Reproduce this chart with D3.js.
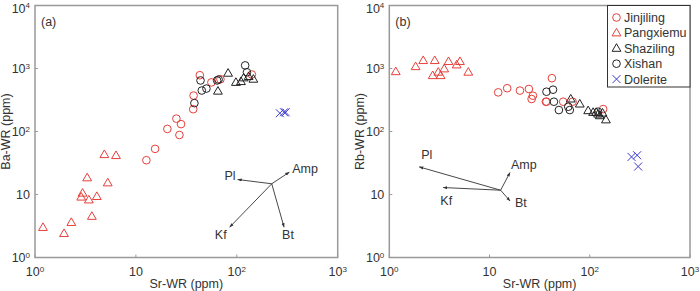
<!DOCTYPE html>
<html>
<head>
<meta charset="utf-8">
<script src="https://cdn.jsdelivr.net/npm/d3@7"></script>
<style>
  body { margin: 0; background: #fff; }
  text { font-family: "Liberation Sans", Arial, sans-serif; fill: #333; }
</style>
</head>
<body>
<div id="chart"></div>
<script>
// data: [Sr, Ba] for panel (a), [Sr, Rb] for panel (b)
const groups = ["Jinjiling", "Pangxiemu", "Shaziling", "Xishan", "Dolerite"];

const baJinjiling = [[12.7,35],[15.5,53],[20.5,110],[25.2,160],[28,131],[27,88],[37,226],[37.3,372],[43,783],[56,602],[68.8,676],[141,803]];
const baPangxiemu = [[1.2,3.0],[1.94,2.4],[2.29,3.6],[2.87,9.1],[2.96,10.5],[3.29,18.4],[3.42,8.2],[3.66,4.5],[4.1,9.3],[4.87,43],[5.26,15.3],[6.35,41.5]];
const baShaziling = [[65,437],[82,842],[98,602],[110,620],[117,710],[131,745],[146,676]];
const baXishan = [[38,282],[43.7,646],[45,447],[50,480],[63.8,646],[66,668],[121,1120],[126,870]];
const baDolerite = [[267,195],[294,202],[305,202]];

const rbJinjiling = [[12.2,418],[15,486],[20.1,446],[24.7,473],[26.3,328],[27.1,370],[36.5,297],[37,297],[41.9,702],[54.3,297],[67.4,297],[136,227]];
const rbPangxiemu = [[1.16,891],[1.83,1070],[2.18,1337],[2.71,771],[2.84,1337],[3.08,874],[3.25,771],[3.53,986],[3.9,1290],[4.7,1140],[5.07,1290],[6.14,874]];
const rbShaziling = [[64.6,328],[79.5,273],[96.4,214],[108,201],[116,201],[121,189],[126,178],[134,196],[145,153]];
const rbXishan = [[37,428],[43,461],[43.9,297],[49.2,219],[61,247],[63.2,219],[121,206]];
const rbDolerite = [[261,39.5],[297,42],[304,27.8]];

// mineral vectors: origin and end points in data units
const baVectorOrigin = [222, 14.8];
const baVectors = [["Pl",102,17.3],["Amp",331,22.6],["Kf",85,3.03],["Bt",294,3.03]];
const rbVectorOrigin = [12.9, 11.7];
const rbVectors = [["Pl",1.99,27.4],["Amp",16,22.3],["Kf",3.45,12.9],["Bt",16,7.9]];

const xTicks = [1, 10, 100, 1000];
const yTicks = [1, 10, 100, 1000, 10000];

const style = {
  Jinjiling: { shape: "circle", color: "#e5403b" },
  Pangxiemu: { shape: "triangle", color: "#e5403b" },
  Shaziling: { shape: "triangle", color: "#222" },
  Xishan:    { shape: "circle", color: "#222" },
  Dolerite:  { shape: "cross", color: "#3b3bd0" }
};

const width = 700, height = 291;
const svg = d3.select("#chart").append("svg")
    .attr("width", width)
    .attr("height", height);

svg.append("defs").append("marker")
    .attr("id", "head")
    .attr("viewBox", "0 0 10 10")
    .attr("refX", 9).attr("refY", 5)
    .attr("markerWidth", 5).attr("markerHeight", 5)
    .attr("orient", "auto")
  .append("path")
    .attr("d", "M0,1.5L10,5L0,8.5Z")
    .attr("fill", "#333");

function symbolPath(shape) {
  if (shape === "circle") return d3.symbol(d3.symbolCircle, 46)();
  if (shape === "triangle") return "M0,-4.6L4.4,3L-4.4,3Z";
  return "M-4,-4L4,4M-4,4L4,-4";
}

function supLabel(sel, v) {
  const e = Math.round(Math.log10(v));
  sel.text("10");
  if (e === 1) return;
  sel.append("tspan").attr("dy", -4.5).attr("font-size", 8).text(e);
}

function drawPanel(opt) {
  const x = d3.scaleLog().domain([1, 1000]).range(opt.xRange);
  const y = d3.scaleLog().domain([1, 10000]).range([257.5, 5.5]);
  const g = svg.append("g");

  // ticks (inward, bottom and left only)
  xTicks.forEach(t => {
    g.append("line").attr("x1", x(t)).attr("x2", x(t))
      .attr("y1", y(1)).attr("y2", y(1) - 3)
      .attr("stroke", "#999");
    const lab = g.append("text")
      .attr("x", x(t)).attr("y", 276)
      .attr("text-anchor", "middle")
      .attr("font-size", 12.5);
    supLabel(lab, t);
  });
  yTicks.forEach(t => {
    g.append("line").attr("x1", x(1)).attr("x2", x(1) + 3)
      .attr("y1", y(t)).attr("y2", y(t))
      .attr("stroke", "#999");
    const lab = g.append("text")
      .attr("x", x(1) - 5).attr("y", y(t) + (t === 10000 ? 7 : 4.5))
      .attr("text-anchor", "end")
      .attr("font-size", 12.5);
    supLabel(lab, t);
  });

  // frame
  g.append("rect")
    .attr("x", x(1)).attr("y", y(10000))
    .attr("width", x(1000) - x(1)).attr("height", y(1) - y(10000))
    .attr("fill", "none")
    .attr("stroke", "#999")
    .attr("stroke-width", 1.5);

  g.append("text")
    .attr("x", x(1) + 6).attr("y", y(10000) + 20)
    .attr("font-size", 12.5)
    .text(opt.tag);

  g.append("text")
    .attr("x", (x(1) + x(1000)) / 2).attr("y", 288)
    .attr("text-anchor", "middle")
    .attr("font-size", 12.5)
    .text("Sr-WR (ppm)");

  g.append("text")
    .attr("transform", `translate(${x(1) - 25},${(y(1) + y(10000)) / 2}) rotate(-90)`)
    .attr("text-anchor", "middle")
    .attr("font-size", 12.5)
    .text(opt.yLabel);

  // mineral vectors
  const o = opt.origin;
  opt.vectors.forEach(v => {
    g.append("line")
      .attr("x1", x(o[0])).attr("y1", y(o[1]))
      .attr("x2", x(v[1])).attr("y2", y(v[2]))
      .attr("stroke", "#333")
      .attr("stroke-width", 0.9)
      .attr("marker-end", "url(#head)");
    const off = opt.labelOffsets[v[0]];
    g.append("text")
      .attr("x", x(v[1]) + off[0]).attr("y", y(v[2]) + off[1])
      .attr("text-anchor", off[2])
      .attr("font-size", 12.5)
      .text(v[0]);
  });

  // points
  groups.forEach(name => {
    const s = style[name];
    g.append("g").selectAll("path")
      .data(opt.series[name])
      .enter().append("path")
      .attr("transform", d => `translate(${x(d[0])},${y(d[1])})`)
      .attr("d", symbolPath(s.shape))
      .attr("fill", "none")
      .attr("stroke", s.color)
      .attr("stroke-width", 1);
  });
}

drawPanel({
  tag: "(a)",
  yLabel: "Ba-WR (ppm)",
  xRange: [35, 337.7],
  origin: baVectorOrigin,
  vectors: baVectors,
  labelOffsets: { Pl: [-2, 0, "end"], Amp: [3, 1, "start"], Kf: [-3, 12, "end"], Bt: [-2, 12, "start"] },
  series: { Jinjiling: baJinjiling, Pangxiemu: baPangxiemu, Shaziling: baShaziling, Xishan: baXishan, Dolerite: baDolerite }
});

drawPanel({
  tag: "(b)",
  yLabel: "Rb-WR (ppm)",
  xRange: [389.3, 690],
  origin: rbVectorOrigin,
  vectors: rbVectors,
  labelOffsets: { Pl: [2, -8, "start"], Amp: [1, -4, "start"], Kf: [3, 17, "middle"], Bt: [5, 6, "start"] },
  series: { Jinjiling: rbJinjiling, Pangxiemu: rbPangxiemu, Shaziling: rbShaziling, Xishan: rbXishan, Dolerite: rbDolerite }
});

// legend in panel (b)
const legend = svg.append("g");
legend.append("rect")
  .attr("x", 607.5).attr("y", 5.5)
  .attr("width", 82.5).attr("height", 81.5)
  .attr("fill", "#fff")
  .attr("stroke", "#333")
  .attr("stroke-width", 1);
groups.forEach((name, i) => {
  const s = style[name];
  const ly = 17.5 + i * 15.4;
  legend.append("path")
    .attr("transform", `translate(616.5,${ly})`)
    .attr("d", symbolPath(s.shape))
    .attr("fill", "none")
    .attr("stroke", s.color)
    .attr("stroke-width", 1);
  legend.append("text")
    .attr("x", 624).attr("y", ly + 4.5)
    .attr("font-size", 12.5)
    .text(name);
});
</script>
</body>
</html>
